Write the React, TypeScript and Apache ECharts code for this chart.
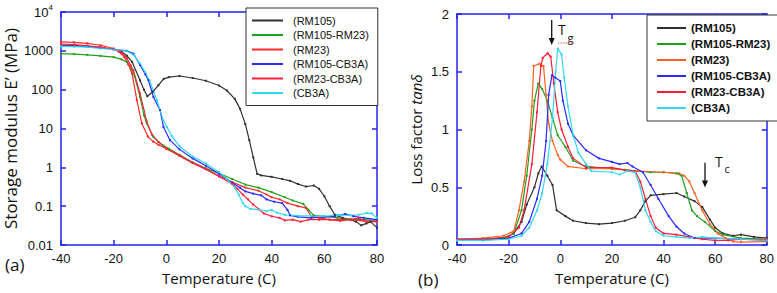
import React, { useEffect, useRef } from "react";
import * as echarts from "echarts";

// ---------- Data: (a) storage modulus E' (MPa) vs temperature (C) ----------
const seriesNames = ["(RM105)", "(RM105-RM23)", "(RM23)", "(RM105-CB3A)", "(RM23-CB3A)", "(CB3A)"];

const E_RM105 = [[-40,1400],[-35,1380],[-30,1300],[-25,1200],[-20,1100],[-17,950],[-15,750],[-13,520],[-10,175],[-8.5,100],[-7.2,68],[-5,90],[-3,130],[-1,190],[1,210],[5,225],[10,200],[15,170],[20,128],[23,95],[26,58],[28,32],[30,13],[31.5,5],[33,1.8],[34.5,0.68],[36,0.62],[40,0.57],[44,0.5],[47,0.45],[50,0.37],[53,0.32],[56,0.34],[58,0.28],[60,0.18],[62,0.1],[64,0.06],[67,0.05],[70,0.045],[72,0.04],[74,0.032],[76,0.036],[77.5,0.04],[80,0.028]];
const E_RM105_RM23 = [[-40,850],[-35,820],[-30,790],[-25,740],[-20,690],[-17,600],[-15,520],[-13,330],[-12,215],[-10,65],[-8.5,22],[-7.4,13.5],[-5,6.2],[-3,4.5],[-1,3.6],[1,3.0],[5,2.1],[10,1.35],[15,0.95],[20,0.7],[25,0.5],[30,0.36],[35,0.3],[40,0.23],[45,0.17],[48,0.14],[52,0.115],[54,0.08],[56,0.058],[60,0.055],[65,0.05],[70,0.046],[75,0.045],[80,0.043]];
const E_RM23 = [[-40,1700],[-35,1650],[-30,1550],[-25,1390],[-20,1150],[-18,950],[-16,700],[-14.5,450],[-13,260],[-11.2,54],[-9.3,13.5],[-7,6.2],[-5,4.6],[-3,3.8],[0,3.0],[5,2.0],[10,1.3],[15,0.9],[20,0.6],[25,0.42],[30,0.3],[35,0.25],[38,0.2],[40,0.17],[43,0.15],[46,0.12],[50,0.1],[53,0.09],[55,0.055],[58,0.05],[62,0.045],[66,0.045],[70,0.045],[75,0.042],[80,0.04]];
const E_RM105_CB3A = [[-40,1350],[-35,1330],[-30,1280],[-25,1200],[-20,1100],[-15,1000],[-12.5,850],[-10,430],[-8,250],[-6.8,175],[-4.9,65],[-2.4,30],[-1.1,11],[1.4,5],[5,2.9],[10,1.7],[15,1.1],[20,0.68],[25,0.4],[28,0.3],[30,0.24],[33,0.21],[36,0.19],[38,0.15],[41,0.13],[44,0.12],[46,0.08],[47,0.058],[50,0.053],[55,0.05],[60,0.052],[64,0.055],[68,0.063],[71,0.055],[75,0.05],[80,0.045]];
const E_RM23_CB3A = [[-40,1500],[-35,1450],[-30,1350],[-25,1250],[-20,1100],[-17,900],[-15,650],[-13.5,420],[-12.5,315],[-10,80],[-7.4,15],[-5.5,7],[-3,4.5],[0,3.1],[5,2.0],[10,1.3],[15,0.9],[20,0.58],[25,0.38],[27,0.28],[29,0.2],[31,0.15],[33,0.11],[35,0.085],[37,0.065],[40,0.055],[43,0.05],[45,0.043],[48,0.045],[51,0.04],[54,0.045],[58,0.045],[62,0.045],[66,0.042],[70,0.045],[73,0.05],[76,0.04],[80,0.04]];
const E_CB3A = [[-40,1300],[-35,1280],[-30,1250],[-25,1150],[-20,1070],[-15,980],[-12.5,800],[-10,470],[-8,280],[-6.2,160],[-3.6,54],[-1.1,16],[0.2,11],[2,6.5],[5,3.5],[10,1.9],[15,1.25],[20,0.75],[23,0.5],[26,0.3],[27.5,0.2],[29,0.12],[30,0.1],[32,0.085],[35,0.082],[38,0.075],[40,0.08],[42,0.068],[45,0.06],[50,0.057],[55,0.056],[60,0.055],[65,0.06],[70,0.058],[73,0.06],[76,0.066],[78,0.065],[80,0.05]];

// ---------- Data: (b) loss factor tan(delta) vs temperature (C) ----------
const T_RM105 = [[-40,0.05],[-30,0.05],[-22,0.06],[-18,0.1],[-15,0.2],[-13,0.35],[-10,0.5],[-8.5,0.62],[-7.2,0.68],[-5,0.6],[-3,0.52],[-1.4,0.3],[2,0.25],[5,0.21],[10,0.19],[15,0.18],[20,0.19],[25,0.21],[29,0.24],[31,0.3],[33,0.38],[35,0.43],[40,0.44],[45,0.45],[48,0.42],[52,0.38],[55,0.33],[58,0.22],[60,0.15],[63,0.1],[67,0.08],[70,0.09],[75,0.07],[80,0.06]];
const T_RM105_RM23 = [[-40,0.04],[-30,0.04],[-22,0.06],[-18,0.1],[-15,0.3],[-13,0.6],[-11,1.0],[-10,1.25],[-8.5,1.4],[-7,1.35],[-5,1.25],[-3,1.1],[-1,0.95],[2,0.85],[5,0.73],[10,0.68],[20,0.66],[25,0.65],[30,0.64],[35,0.63],[40,0.63],[45,0.62],[47,0.6],[49,0.45],[51,0.3],[53,0.25],[56,0.2],[60,0.12],[63,0.09],[70,0.06],[80,0.05]];
const T_RM23 = [[-40,0.05],[-30,0.06],[-22,0.08],[-18,0.12],[-16,0.3],[-14,0.55],[-12,0.9],[-11,1.2],[-10.3,1.55],[-8,1.57],[-6.5,1.55],[-5.5,1.3],[-4.5,1.05],[-3,0.9],[-1,0.78],[0,0.74],[3,0.68],[10,0.66],[20,0.66],[30,0.64],[40,0.63],[46,0.62],[48,0.6],[50,0.55],[52,0.45],[55,0.3],[58,0.18],[61,0.1],[64,0.06],[67,0.03],[70,0.025],[80,0.03]];
const T_RM105_CB3A = [[-40,0.05],[-30,0.05],[-20,0.06],[-15,0.1],[-12,0.2],[-9,0.4],[-7,0.6],[-5.5,0.9],[-4.5,1.3],[-3.2,1.47],[-2,1.45],[0,1.42],[1,1.25],[3,1.05],[5,0.95],[10,0.82],[15,0.75],[20,0.72],[23,0.7],[26,0.71],[28,0.68],[32,0.63],[35,0.52],[38,0.4],[42,0.25],[45,0.16],[48,0.1],[52,0.06],[60,0.06],[80,0.04]];
const T_RM23_CB3A = [[-40,0.05],[-30,0.05],[-20,0.07],[-16,0.15],[-14,0.3],[-11,0.7],[-9,1.15],[-7.5,1.55],[-6.8,1.62],[-4.9,1.66],[-3.7,1.63],[-2.5,1.4],[-1,1.15],[0.5,1.0],[3,0.85],[5,0.75],[10,0.67],[20,0.67],[25,0.65],[29,0.64],[31,0.55],[33,0.4],[35,0.25],[37,0.15],[40,0.1],[45,0.09],[50,0.07],[55,0.05],[60,0.04],[65,0.04],[70,0.05],[80,0.05]];
const T_CB3A = [[-40,0.04],[-30,0.04],[-20,0.05],[-15,0.08],[-12,0.15],[-9,0.3],[-7,0.45],[-5,0.7],[-3,1.1],[-1.8,1.5],[-1,1.7],[0.5,1.65],[1.5,1.45],[3,1.2],[5,0.95],[7,0.8],[10,0.7],[12,0.64],[20,0.63],[23,0.61],[26,0.64],[29,0.63],[31,0.5],[33,0.3],[35,0.2],[37,0.12],[40,0.08],[45,0.07],[50,0.06],[55,0.07],[60,0.06],[70,0.05],[80,0.04]];

const xTicks = { min: -40, max: 80, interval: 20 };
const colorsA = ["#303030", "#1ea01e", "#ff2a2a", "#2a2aff", "#ff2040", "#30d8f0"];
const colorsB = ["#303030", "#1ea01e", "#ff6020", "#2a2aff", "#ff1a38", "#30d8f0"];
const dataA = [E_RM105, E_RM105_RM23, E_RM23, E_RM105_CB3A, E_RM23_CB3A, E_CB3A];
const dataB = [T_RM105, T_RM105_RM23, T_RM23, T_RM105_CB3A, T_RM23_CB3A, T_CB3A];

const AXIS_BLUE = "#2424f0";
const LABEL_FONT = "'Liberation Sans', Arial, sans-serif";
const NAME_FONT = "'Open Sans', 'Noto Sans', sans-serif";

const axisLineStyle = { show: true, onZero: false, lineStyle: { color: AXIS_BLUE, width: 1.5 } };
const axisTickStyle = { show: true, inside: true, length: 5, lineStyle: { color: AXIS_BLUE, width: 1.5 } };

function xAxisDef(grid: number, top: boolean, name?: string) {
  return {
    gridIndex: grid,
    type: "value",
    position: top ? "top" : "bottom",
    min: xTicks.min,
    max: xTicks.max,
    interval: xTicks.interval,
    axisLine: axisLineStyle,
    axisTick: axisTickStyle,
    axisLabel: { show: !top, margin: 7, fontSize: 13, fontFamily: LABEL_FONT, color: "#111" },
    splitLine: { show: false },
    name: top ? undefined : name,
    nameLocation: "middle",
    nameGap: 25,
    nameTextStyle: { fontSize: 15, fontFamily: NAME_FONT, color: "#111" },
  };
}

export default function App() {
  const ref = useRef<HTMLDivElement>(null);
  useEffect(() => {
    if (!ref.current) return;
    const chart = echarts.init(ref.current, null, { renderer: "svg" });
    const lineSeries = (data: any[], colors: string[], xi: number, yi: number) =>
      data.map((d, i) => ({
        name: seriesNames[i],
        type: "line",
        xAxisIndex: xi,
        yAxisIndex: yi,
        data: d,
        symbol: "rect",
        symbolSize: 2,
        showSymbol: true,
        lineStyle: { color: colors[i], width: 1.2 },
        itemStyle: { color: colors[i] },
        z: 2,
      }));
    const legendDef = (colors: string[], left: number, top: number, pad: number[], iw: number, gap: number, bold: boolean, fs: number, tp: number) => ({
      orient: "vertical",
      left,
      top,
      padding: pad,
      itemWidth: iw,
      itemHeight: 2,
      itemGap: gap,
      borderColor: "#333",
      borderWidth: 1,
      backgroundColor: "#fff",
      selectedMode: false,
      textStyle: { fontSize: fs, lineHeight: 10, fontFamily: LABEL_FONT, color: "#111", fontWeight: bold ? "bold" : "normal", padding: [0, 0, 0, tp] },
      data: seriesNames.map((n, i) => ({ name: n, icon: "rect", itemStyle: { color: colors[i] } })),
    });

    const option: any = {
      animation: false,
      backgroundColor: "#fff",
      grid: [
        { left: 61, top: 12, width: 316, height: 233 },
        { left: 457, top: 14, width: 311, height: 231 },
      ],
      xAxis: [
        xAxisDef(0, false, "Temperature (C)"),
        xAxisDef(0, true),
        xAxisDef(1, false, "Temperature (C)"),
        xAxisDef(1, true),
      ],
      yAxis: [
        {
          gridIndex: 0, type: "log", logBase: 10, min: 0.01, max: 10000, splitNumber: 6, position: "left",
          axisLine: axisLineStyle,
          axisTick: axisTickStyle,
          axisLabel: {
            margin: 8, fontSize: 13, fontFamily: LABEL_FONT, color: "#111",
            formatter: (v: number) => (v >= 9999 ? "{b|10}{s|4}" : String(+v.toPrecision(3))),
            rich: { b: { fontSize: 13, fontFamily: LABEL_FONT, color: "#111" }, s: { fontSize: 8, fontFamily: LABEL_FONT, color: "#111", padding: [0, 0, 9, 0] } },
          },
          splitLine: { show: false },
          name: "Storage modulus E’ (MPa)", nameLocation: "middle", nameGap: 42,
          nameTextStyle: { fontSize: 17, fontFamily: NAME_FONT, color: "#111" },
        },
        {
          gridIndex: 0, type: "log", logBase: 10, min: 0.01, max: 10000, splitNumber: 6, position: "right",
          axisLine: axisLineStyle,
          axisTick: axisTickStyle,
          axisLabel: { show: false }, splitLine: { show: false },
        },
        {
          gridIndex: 1, type: "value", min: 0, max: 2, interval: 0.5, position: "left",
          axisLine: axisLineStyle,
          axisTick: axisTickStyle,
          axisLabel: { margin: 8, fontSize: 13, fontFamily: LABEL_FONT, color: "#111" },
          splitLine: { show: false },
          name: "Loss factor {i|tanδ}", nameLocation: "middle", nameGap: 34,
          nameTextStyle: { fontSize: 15, fontFamily: NAME_FONT, color: "#111", rich: { i: { fontSize: 15, fontFamily: NAME_FONT, fontStyle: "italic", color: "#111" } } },
        },
        {
          gridIndex: 1, type: "value", min: 0, max: 2, interval: 0.5, position: "right",
          axisLine: axisLineStyle,
          axisTick: axisTickStyle,
          axisLabel: { show: false }, splitLine: { show: false },
        },
      ],
      legend: [
        legendDef(colorsA, 246, 8, [7, 9, 7, 6], 31, 3.5, false, 11, 5),
        legendDef(colorsB, 647, 15, [7, 8, 7, 10], 29, 4, true, 11.5, 0),
      ],
      series: [...lineSeries(dataA, colorsA, 0, 0), ...lineSeries(dataB, colorsB, 2, 2)],
      graphic: [
        { type: "text", left: 5, top: 256, style: { text: "(a)", fontSize: 17, fontFamily: NAME_FONT, fill: "#111" } },
        { type: "text", left: 418, top: 271, style: { text: "(b)", fontSize: 17, fontFamily: NAME_FONT, fill: "#111" } },
        // Tg arrow
        { type: "line", shape: { x1: 551.7, y1: 20, x2: 551.7, y2: 40 }, style: { stroke: "#111", lineWidth: 1.3 } },
        { type: "polygon", shape: { points: [[548.7, 38], [554.7, 38], [551.7, 45]] }, style: { fill: "#111" } },
        { type: "text", x: 558, y: 22, style: { text: "T", fontSize: 14, fontFamily: NAME_FONT, fill: "#111" } },
        { type: "text", x: 567.5, y: 32, style: { text: "g", fontSize: 11, fontFamily: NAME_FONT, fill: "#111" } },
        { type: "line", shape: { x1: 558, y1: 43, x2: 574, y2: 43 }, style: { stroke: "#e04040", lineWidth: 0.8, lineDash: [1.5, 1] } },
        // Tc arrow
        { type: "line", shape: { x1: 705, y1: 162.7, x2: 705, y2: 182 }, style: { stroke: "#111", lineWidth: 1.3 } },
        { type: "polygon", shape: { points: [[702, 180.5], [708, 180.5], [705, 187.5]] }, style: { fill: "#111" } },
        { type: "text", x: 715, y: 154, style: { text: "T", fontSize: 14, fontFamily: NAME_FONT, fill: "#111" } },
        { type: "text", x: 724.5, y: 163, style: { text: "c", fontSize: 11, fontFamily: NAME_FONT, fill: "#111" } },
      ],
    };
    chart.setOption(option);
    return () => chart.dispose();
  }, []);
  return (
    <div
      ref={ref}
      style={{ position: "fixed", left: 0, top: 0, width: 777, height: 293, background: "#fff" }}
    />
  );
}
